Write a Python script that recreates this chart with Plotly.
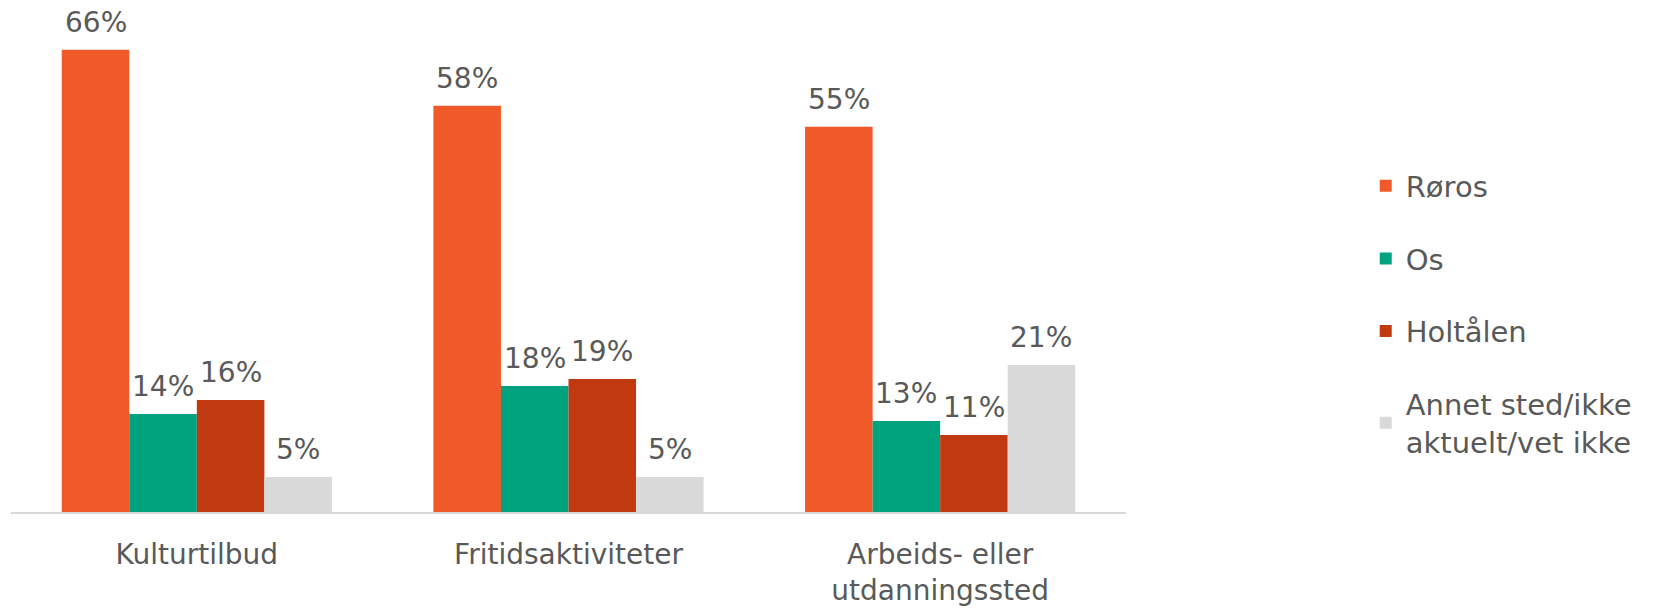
import plotly.graph_objects as go

categories = ["Kulturtilbud", "Fritidsaktiviteter", "Arbeids- eller<br>utdanningssted"]
series_names = ["Røros", "Os", "Holtålen", "Annet sted/ikke<br>aktuelt/vet ikke"]
roros = [66, 58, 55]
os_vals = [14, 18, 13]
holtalen = [16, 19, 11]
annet = [5, 5, 21]
colors = ["#F05A28", "#00A37E", "#C1390F", "#D9D9D9"]

values = [roros, os_vals, holtalen, annet]
font_family = "DejaVu Sans"
text_color = "#595959"

W, H = 1658, 610
ML, MR, MT, MB = 3, 540, 32, 106
BARGAP = 0.273
plot_w = W - ML - MR
bar_px = plot_w / len(categories) * (1 - BARGAP) / len(series_names)

fig = go.Figure()
for i, (name, vals) in enumerate(zip(series_names, values)):
    fig.add_trace(go.Bar(
        x=categories, y=vals, name=name,
        marker=dict(color=colors[i], line=dict(width=0)),
        cliponaxis=False, legendgroup=f"g{i}",
    ))
    for c, v in zip(categories, vals):
        fig.add_annotation(
            x=c, y=v, text=f"{v}%", showarrow=False,
            xshift=(i - 1.5) * bar_px, yshift=27, yanchor="middle",
            font=dict(size=28, color=text_color, family=font_family),
        )

fig.update_layout(
    width=W, height=H,
    margin=dict(l=ML, r=MR, t=MT, b=MB),
    barmode="group", bargap=BARGAP, bargroupgap=0,
    plot_bgcolor="white", paper_bgcolor="white",
    font=dict(family=font_family, size=28, color=text_color),
    xaxis=dict(showline=True, linecolor="#D9D9D9", linewidth=2, ticks="",
               tickfont=dict(size=28, color=text_color), showgrid=False,
               ticklabelstandoff=16),
    yaxis=dict(range=[0, 67.4], visible=False, showgrid=False),
    legend=dict(x=1.215, xanchor="left", y=0.745, yanchor="top",
                font=dict(size=29, color=text_color), traceorder="grouped",
                tracegroupgap=32, itemwidth=30),
    showlegend=True,
)

fig.write_html("out.html")
